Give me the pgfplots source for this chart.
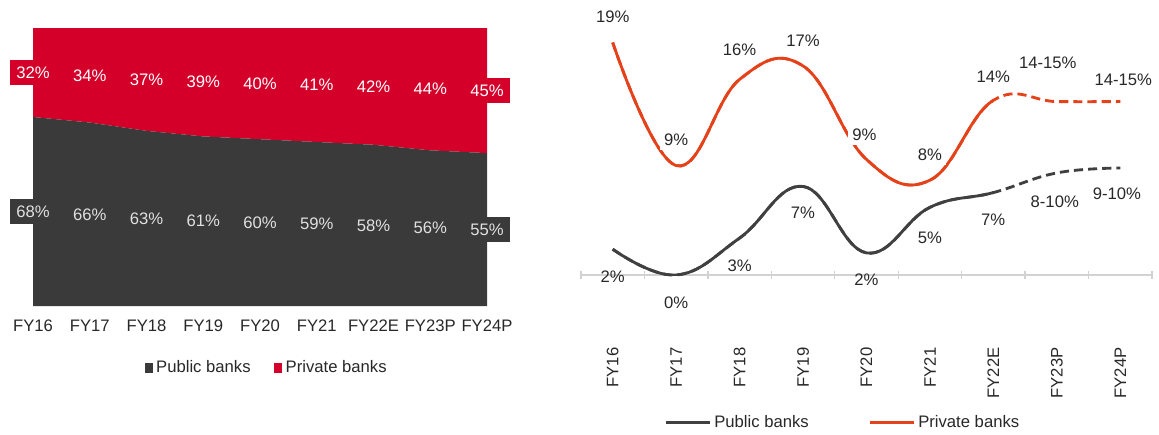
\documentclass[border=0pt]{standalone}
\usepackage{fontspec}
\setmainfont{Liberation Sans}
\usepackage{pgfplots}
\pgfplotsset{compat=1.18}

\definecolor{privred}{RGB}{212,0,42}
\definecolor{pubgrey}{RGB}{58,58,58}
\definecolor{lineorange}{RGB}{228,66,26}
\definecolor{linegrey}{RGB}{64,64,64}
\definecolor{txt}{RGB}{40,40,40}

\begin{document}
\begin{tikzpicture}[font=\fontsize{10}{12}\selectfont,
  pubbox/.style={fill=pubgrey, text=white!88!black, inner xsep=3.6pt, inner ysep=4.2pt},
  privbox/.style={fill=privred, text=white, inner xsep=3.6pt, inner ysep=4.2pt},
  privlbl/.style={fill=white, text=txt, inner xsep=2.5pt, inner ysep=2.5pt},
  publbl/.style={text=txt, inner sep=1pt}]

% ---- left: share of loans, public vs private
\begin{axis}[
  at={(19.8pt,-183.6pt)}, anchor=south west,
  scale only axis, width=272.4pt, height=166.8pt,
  xmin=0, xmax=8, ymin=0, ymax=100,
  stack plots=y, area style,
  axis line style={draw=none},
  ytick=\empty,
  xtick={0,...,8},
  xticklabels={FY16,FY17,FY18,FY19,FY20,FY21,FY22E,FY23P,FY24P},
  major tick length=0pt,
  xticklabel style={text=txt, yshift=-5pt},
  clip=false,
  legend style={draw=none, at={(0.516,-0.223)}, anchor=center,
    legend columns=2, text=txt,
    /tikz/every even column/.append style={column sep=12pt}},
  legend image code/.code={\fill[#1] (0pt,-2.8pt) rectangle (5pt,2.8pt);},
]
\addplot[fill=pubgrey, draw=none] coordinates {
  (0,68) (1,66) (2,63) (3,61) (4,60) (5,59) (6,58) (7,56) (8,55)} \closedcycle;
\addlegendentry{Public banks}
\addplot[fill=privred, draw=none] coordinates {
  (0,32) (1,34) (2,37) (3,39) (4,40) (5,41) (6,42) (7,44) (8,45)} \closedcycle;
\addlegendentry{Private banks}
\end{axis}

% labels of the left panel, on top of the areas
\begin{axis}[
  at={(19.8pt,-183.6pt)}, anchor=south west,
  scale only axis, width=272.4pt, height=166.8pt,
  xmin=0, xmax=8, ymin=0, ymax=100,
  hide axis, clip=false,
]
\node[pubbox] at (axis cs:0,34) {68\%};
\node[pubbox] at (axis cs:1,33) {66\%};
\node[pubbox] at (axis cs:2,31.5) {63\%};
\node[pubbox] at (axis cs:3,30.5) {61\%};
\node[pubbox] at (axis cs:4,30) {60\%};
\node[pubbox] at (axis cs:5,29.5) {59\%};
\node[pubbox] at (axis cs:6,29) {58\%};
\node[pubbox] at (axis cs:7,28) {56\%};
\node[pubbox] at (axis cs:8,27.5) {55\%};

\node[privbox] at (axis cs:0,84) {32\%};
\node[privbox] at (axis cs:1,83) {34\%};
\node[privbox] at (axis cs:2,81.5) {37\%};
\node[privbox] at (axis cs:3,80.5) {39\%};
\node[privbox] at (axis cs:4,80) {40\%};
\node[privbox] at (axis cs:5,79.5) {41\%};
\node[privbox] at (axis cs:6,79) {42\%};
\node[privbox] at (axis cs:7,78) {44\%};
\node[privbox] at (axis cs:8,77.5) {45\%};
\end{axis}

% ---- right: loan growth (dashed full curves, axis, legend)
\begin{axis}[
  at={(348.6pt,-165pt)}, anchor=south west,
  scale only axis, width=342.6pt, height=153pt,
  xmin=-0.5, xmax=8.5, ymin=0, ymax=20.73,
  axis x line*=bottom, axis y line=none,
  x axis line style={-, draw=gray!35, line width=0.8pt},
  xtick={0,...,8},
  xticklabels={FY16,FY17,FY18,FY19,FY20,FY21,FY22E,FY23P,FY24P},
  minor xtick={-0.5,0.5,...,8.5},
  major tick length=0pt, minor tick length=4.5pt,
  tick align=center,
  minor tick style={draw=gray!35, line width=0.8pt},
  xticklabel style={text=txt, yshift=-40pt, rotate=90, anchor=east},
  clip=false,
  legend style={draw=none, at={(0.46,-0.58)}, anchor=center,
    legend columns=2, text=txt,
    /tikz/every even column/.append style={column sep=34pt}},
  legend image code/.code={\draw[#1] (0pt,0pt) -- (26pt,0pt);},
]
\addlegendimage{linegrey, line width=1.7pt}
\addlegendentry{Public banks}
\addlegendimage{lineorange, line width=1.7pt}
\addlegendentry{Private banks}
\addplot[linegrey, line width=1.7pt, smooth, tension=0.7, dash pattern=on 5.5pt off 3pt, forget plot]
  coordinates {(0,2.1) (1,0) (2,3.0) (3,7.2) (4,1.8) (5,5.5) (6,6.7) (7,8.3) (8,8.7)};
\addplot[lineorange, line width=1.7pt, smooth, tension=0.7, dash pattern=on 5.5pt off 3pt, forget plot]
  coordinates {(0,18.9) (1,8.9) (2,15.9) (3,17.0) (4,9.4) (5,7.7) (6,14.2) (7,14.1) (8,14.1)};
\end{axis}

% solid part up to FY22E (plot box ends at FY22E), and the labels
\begin{axis}[
  at={(348.6pt,-165pt)}, anchor=south west,
  scale only axis, width=247.35pt, height=153pt,
  xmin=-0.5, xmax=6, ymin=0, ymax=20.73,
  hide axis, clip mode=individual,
]
\addplot[linegrey, line width=1.7pt, smooth, tension=0.7]
  coordinates {(0,2.1) (1,0) (2,3.0) (3,7.2) (4,1.8) (5,5.5) (6,6.7) (7,8.3) (8,8.7)};
\addplot[lineorange, line width=1.7pt, smooth, tension=0.7]
  coordinates {(0,18.9) (1,8.9) (2,15.9) (3,17.0) (4,9.4) (5,7.7) (6,14.2) (7,14.1) (8,14.1)};

\node[privlbl] at (axis cs:0,20.98) {19\%};
\node[privlbl] at (axis cs:1,10.98) {9\%};
\node[privlbl] at (axis cs:2,18.29) {16\%};
\node[privlbl] at (axis cs:3,19.02) {17\%};
\node[privlbl] at (axis cs:3.97,11.38) {9\%};
\node[privlbl] at (axis cs:5,9.76) {8\%};
\node[privlbl] at (axis cs:6,16.10) {14\%};
\node[privlbl] at (axis cs:6.86,17.24) {14-15\%};
\node[privlbl] at (axis cs:8.05,15.85) {14-15\%};

\node[publbl] at (axis cs:0,-0.16) {2\%};
\node[publbl] at (axis cs:1,-2.28) {0\%};
\node[publbl] at (axis cs:2,0.73) {3\%};
\node[publbl] at (axis cs:3,5.04) {7\%};
\node[publbl] at (axis cs:4,-0.41) {2\%};
\node[publbl] at (axis cs:5,3.01) {5\%};
\node[publbl] at (axis cs:6,4.47) {7\%};
\node[publbl] at (axis cs:6.97,5.93) {8-10\%};
\node[publbl] at (axis cs:7.95,6.59) {9-10\%};
\end{axis}

\pgfresetboundingbox
\path[use as bounding box] (0pt,0pt) rectangle (695.4pt,-260.4pt);
\end{tikzpicture}
\end{document}
